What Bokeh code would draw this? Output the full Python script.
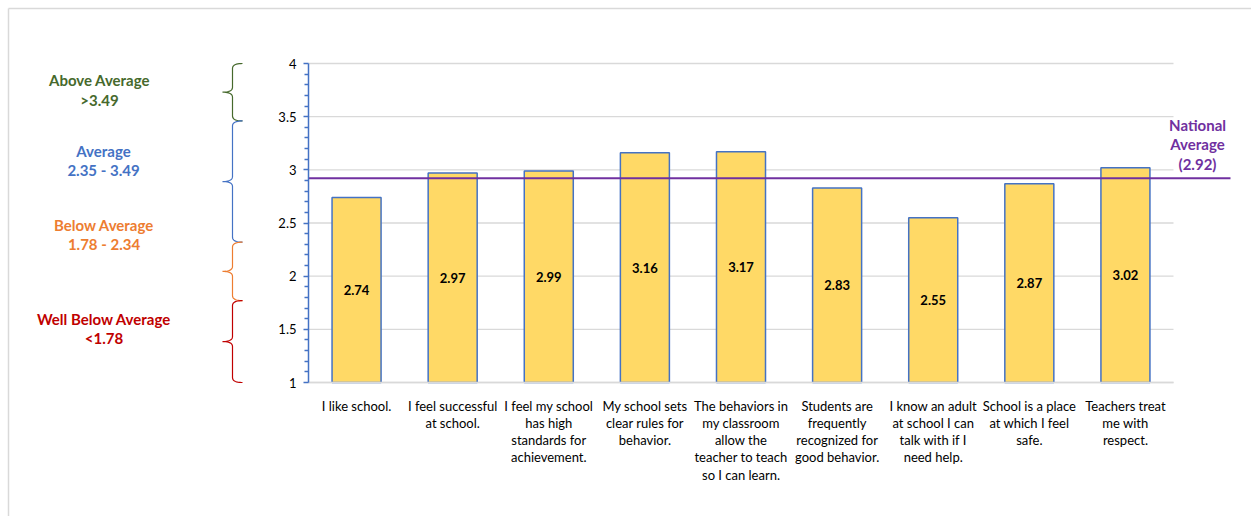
import numpy as np
from bokeh.plotting import figure
from bokeh.models import Range1d, LinearAxis, FixedTicker, ColumnDataSource, Grid
from bokeh.core.properties import value
from bokeh.embed import file_html
from bokeh.resources import INLINE

# ---------------- data ----------------
categories = [
    "I like school.",
    "I feel successful\nat school.",
    "I feel my school\nhas high\nstandards for\nachievement.",
    "My school sets\nclear rules for\nbehavior.",
    "The behaviors in\nmy classroom\nallow the\nteacher to teach\nso I can learn.",
    "Students are\nfrequently\nrecognized for\ngood behavior.",
    "I know an adult\nat school I can\ntalk with if I\nneed help.",
    "School is a place\nat which I feel\nsafe.",
    "Teachers treat\nme with\nrespect.",
]
scores = [2.74, 2.97, 2.99, 3.16, 3.17, 2.83, 2.55, 2.87, 3.02]
score_labels = ["2.74", "2.97", "2.99", "3.16", "3.17", "2.83", "2.55", "2.87", "3.02"]
national_average = 2.92
national_label = ["National", "Average", "(2.92)"]
y_ticks = [1, 1.5, 2, 2.5, 3, 3.5, 4]
y_tick_labels = ["1", "1.5", "2", "2.5", "3", "3.5", "4"]
y_minor_ticks = [1.1, 1.2, 1.3, 1.4, 1.6, 1.7, 1.8, 1.9, 2.1, 2.2, 2.3, 2.4,
                 2.6, 2.7, 2.8, 2.9, 3.1, 3.2, 3.3, 3.4, 3.6, 3.7, 3.8, 3.9]
band_names = ["Above Average", "Average", "Below Average", "Well Below Average"]
band_ranges = [">3.49", "2.35 - 3.49", "1.78 - 2.34", "<1.78"]
band_colors = ["#46692C", "#4472C4", "#ED7D31", "#C00000"]
band_edges = [4.0, 3.46, 2.32, 1.77, 1.0]

# ---------------- layout (pixels) ----------------
W, H = 1251, 516
X0_PX, XS = 356.06, 96.11      # pixel of first category centre, pixels per category
Y1_PX, YS = 382.0, 106.33      # pixel of y=1, pixels per unit

def dx(px):
    return (np.asarray(px, dtype=float) - X0_PX) / XS

def dy(py):
    return 1 + (Y1_PX - np.asarray(py, dtype=float)) / YS

def py_of(y):
    return Y1_PX - (np.asarray(y, dtype=float) - 1) * YS

FONT = "Lato"

p = figure(width=W, height=H, output_backend="svg", toolbar_location=None,
           x_range=Range1d(float(dx(0)), float(dx(W))),
           y_range=Range1d(float(dy(H)), float(dy(0))),
           x_axis_location=None, y_axis_location=None, min_border=0)
p.outline_line_color = None
p.background_fill_color = "white"
p.border_fill_color = "white"
for g in p.select(type=Grid):
    g.visible = False

# outer chart-area border (top & left)
p.segment(x0=[float(dx(8)), float(dx(8))], y0=[float(dy(8)), float(dy(8))],
          x1=[float(dx(W)), float(dx(8))], y1=[float(dy(8)), float(dy(H))],
          line_color="#D9D9D9", line_width=1.5)

# gridlines
n = len(categories)
p.segment(x0=[-0.5] * len(y_ticks), x1=[n - 0.5] * len(y_ticks), y0=y_ticks, y1=y_ticks,
          line_color="#D9D9D9", line_width=1.3)

# bars
xs = list(range(n))
src = ColumnDataSource(dict(x=xs, top=scores, mid=[(1 + s) / 2 for s in scores], lab=score_labels))
p.vbar(x="x", top="top", bottom=1, width=0.51, source=src,
       fill_color="#FFD966", line_color="#4472C4", line_width=1.5)

# national average line
p.segment(x0=[-0.5], x1=[float(dx(1230))], y0=[national_average], y1=[national_average],
          line_color="#7030A0", line_width=2)
p.text(x=[float(dx(1197))] * 3, y=list(dy([124, 143.5, 163])), text=national_label,
       text_font=value(FONT), text_font_style="bold", text_font_size="15px",
       text_color="#7030A0", text_align="center", text_baseline="middle")

# value labels
p.text(x="x", y="mid", text="lab", source=src, text_font=value(FONT),
       text_font_style="bold", text_font_size="13px", text_color="black",
       text_align="center", text_baseline="middle")

# braces
def qbez(a, b, c, k=12):
    t = np.linspace(0, 1, k)[:, None]
    a, b, c = np.array(a), np.array(b), np.array(c)
    return (1 - t) ** 2 * a + 2 * (1 - t) * t * b + t ** 2 * c

def brace(top_px, bot_px, xv=232.0, xe=242.0, xc=222.0, r=5.0):
    mid = (top_px + bot_px) / 2
    pts = np.vstack([
        qbez((xe, top_px), (xv, top_px), (xv, top_px + r)),
        qbez((xv, mid - r), (xv, mid), (xc, mid)),
        qbez((xc, mid), (xv, mid), (xv, mid + r)),
        qbez((xv, bot_px - r), (xv, bot_px), (xe, bot_px)),
    ])
    return list(dx(pts[:, 0])), list(dy(pts[:, 1]))

bx, by = [], []
for i in range(4):
    a, b = brace(float(py_of(band_edges[i])), float(py_of(band_edges[i + 1])))
    bx.append(a)
    by.append(b)
p.multi_line(xs=bx, ys=by, line_color=band_colors, line_width=1.2)

name_py = [79, 150, 224, 318]
range_py = [99, 169.5, 243, 337]
tx = [float(dx(99)), float(dx(103)), float(dx(103.5)), float(dx(103.5))]
p.text(x=tx + tx, y=list(dy(name_py)) + list(dy(range_py)), text=band_names + band_ranges,
       text_color=band_colors + band_colors, text_font=value(FONT), text_font_style="bold",
       text_font_size="15px", text_align="center", text_baseline="middle")

# y axis
yaxis = LinearAxis(fixed_location=-0.5, bounds=(1, 4),
                   ticker=FixedTicker(ticks=y_ticks, minor_ticks=y_minor_ticks),
                   major_label_overrides={t: l for t, l in zip(y_ticks, y_tick_labels)})
yaxis.axis_line_color = "#4472C4"
yaxis.axis_line_width = 1.5
yaxis.major_tick_line_color = "#4472C4"
yaxis.major_tick_line_width = 1.5
yaxis.minor_tick_line_color = "#4472C4"
yaxis.minor_tick_line_width = 1.5
yaxis.major_tick_out = 5
yaxis.major_tick_in = 0
yaxis.minor_tick_out = 4
yaxis.minor_tick_in = 0
yaxis.major_label_standoff = 7
yaxis.major_label_text_font = FONT
yaxis.major_label_text_font_size = "13px"
yaxis.major_label_text_color = "black"
p.add_layout(yaxis, "left")

# x axis
xaxis = LinearAxis(fixed_location=1, bounds=(-0.5, n - 0.5),
                   ticker=FixedTicker(ticks=xs, minor_ticks=[]),
                   major_label_overrides={i: c for i, c in enumerate(categories)})
xaxis.axis_line_color = "#D9D9D9"
xaxis.axis_line_width = 1.3
xaxis.major_tick_line_color = None
xaxis.minor_tick_line_color = None
xaxis.major_label_standoff = 9
xaxis.major_label_text_font = FONT
xaxis.major_label_text_font_size = "13px"
xaxis.major_label_text_color = "black"
xaxis.major_label_text_line_height = 1.08
p.add_layout(xaxis, "below")

open("out.html", "w").write(file_html(p, INLINE))
